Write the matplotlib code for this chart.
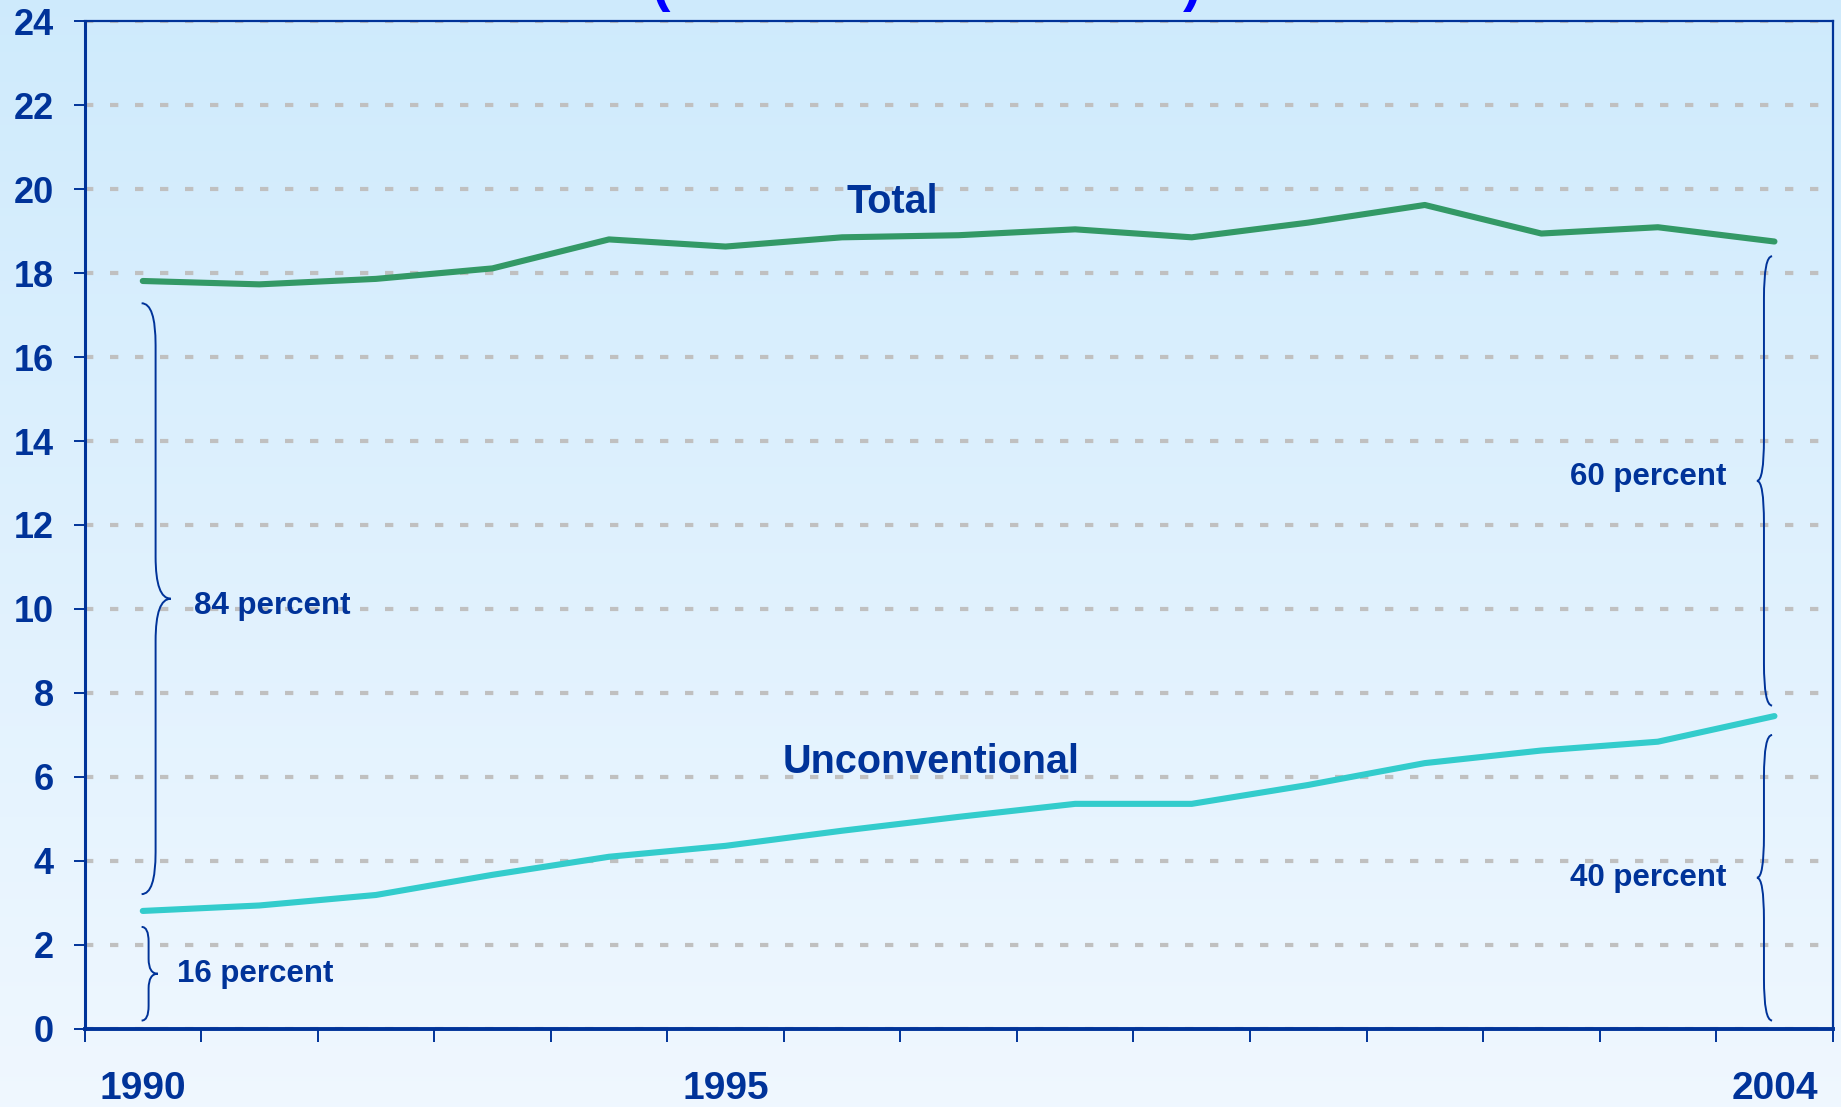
import numpy as np
import matplotlib
matplotlib.use("Agg")
import matplotlib.pyplot as plt
from matplotlib.path import Path
from matplotlib.patches import PathPatch

## Data
years = [1990, 1991, 1992, 1993, 1994, 1995, 1996, 1997,
         1998, 1999, 2000, 2001, 2002, 2003, 2004]
total = [17.81, 17.73, 17.86, 18.11, 18.80, 18.63, 18.85, 18.90,
         19.04, 18.85, 19.20, 19.62, 18.94, 19.09, 18.75]
unconventional = [2.81, 2.94, 3.19, 3.67, 4.10, 4.36, 4.72, 5.05,
                  5.36, 5.36, 5.81, 6.33, 6.63, 6.84, 7.45]
year_labels = ["1990", "1995", "2004"]
yticks = list(range(0, 25, 2))

DARK = "#003399"
GREEN = "#339966"
TEAL = "#33CCCC"

plt.rcParams['font.family'] = ['Liberation Sans', 'DejaVu Sans']
plt.rcParams['font.weight'] = 'bold'

fig = plt.figure(figsize=(18.41, 11.07), dpi=100)

# background gradient over the whole figure
bg = fig.add_axes([0, 0, 1, 1], zorder=-10)
top_c = np.array([0.81, 0.92, 0.99])
bot_c = np.array([0.94, 0.97, 1.00])
t = np.linspace(0, 1, 256)[:, None]
grad = top_c * (1 - t[..., None]) + bot_c * t[..., None]
grad = np.repeat(grad, 2, axis=1)
bg.imshow(grad, aspect='auto', extent=[0, 1, 0, 1])
bg.axis('off')

ax = fig.add_axes([0.0459, 0.0705, 0.9496, 0.9105])
ax.patch.set_alpha(0)

x = np.arange(len(years))
ax.plot(x, total, color=GREEN, lw=4.4, solid_capstyle='round', zorder=3)
ax.plot(x, unconventional, color=TEAL, lw=4.4, solid_capstyle='round', zorder=3)

ax.set_xlim(-0.5, len(years) - 0.5)
ax.set_ylim(0, 24)
ax.set_yticks(yticks)
ax.set_yticklabels([str(v) for v in yticks])

# x axis: tick marks on category boundaries, labels on a few years
ax.set_xticks(np.arange(-0.5, len(years), 1), minor=True)
ax.set_xticks([years.index(int(s)) for s in year_labels])
ax.set_xticklabels(year_labels)
ax.tick_params(axis='x', which='major', length=0, pad=30, labelsize=28, labelcolor=DARK)
ax.tick_params(axis='x', which='minor', length=9, width=1.4, color=DARK, direction='out')
ax.tick_params(axis='y', length=8, width=1.4, color=DARK, direction='out',
               pad=14, labelsize=26, labelcolor=DARK)

ax.set_axisbelow(True)
ax.grid(axis='y', color='#C0C0C0', lw=3.0, linestyle=(0, (2, 4)))

for side in ['right', 'top']:
    ax.spines[side].set_color(DARK)
    ax.spines[side].set_linewidth(1.6)
ax.spines['left'].set_color(DARK)
ax.spines['left'].set_linewidth(2.2)
ax.spines['bottom'].set_color(DARK)
ax.spines['bottom'].set_linewidth(2.8)


def brace(ax, xm, xend, xtip, ybot, ytop, r):
    yc = (ybot + ytop) / 2
    verts = [(xend, ytop), (xm, ytop), (xm, ytop - r),
             (xm, yc + r),
             (xm, yc), (xtip, yc),
             (xm, yc), (xm, yc - r),
             (xm, ybot + r),
             (xm, ybot), (xend, ybot)]
    codes = [Path.MOVETO, Path.CURVE3, Path.CURVE3,
             Path.LINETO,
             Path.CURVE3, Path.CURVE3,
             Path.CURVE3, Path.CURVE3,
             Path.LINETO,
             Path.CURVE3, Path.CURVE3]
    ax.add_patch(PathPatch(Path(verts, codes), fill=False, ec=DARK, lw=1.4, zorder=4))


brace(ax, 0.11, -0.01, 0.24, 3.21, 17.28, 1.0)
brace(ax, 0.05, -0.01, 0.13, 0.2, 2.43, 0.35)
brace(ax, 13.91, 13.98, 13.85, 7.7, 18.4, 1.0)
brace(ax, 13.91, 13.98, 13.85, 0.2, 7.0, 1.0)

ax.text(6.43, 19.7, "Total", color=DARK, fontsize=28.5, ha='center', va='center')
ax.text(6.76, 6.36, "Unconventional", color=DARK, fontsize=28.5, ha='center', va='center')
ax.text(0.44, 10.07, "84 percent", color=DARK, fontsize=22.5, ha='left', va='center')
ax.text(0.29, 1.3, "16 percent", color=DARK, fontsize=22.5, ha='left', va='center')
ax.text(13.59, 13.15, "60 percent", color=DARK, fontsize=22.5, ha='right', va='center')
ax.text(13.59, 3.6, "40 percent", color=DARK, fontsize=22.5, ha='right', va='center')

# title cut off at the top: only the bottoms of the brackets are visible
fig.text(660 / 1841, 0.989, "(", color='#0000FF', fontsize=40, ha='center', va='bottom')
fig.text(1192 / 1841, 0.989, ")", color='#0000FF', fontsize=40, ha='center', va='bottom')

fig.savefig("out.png", dpi=100)
